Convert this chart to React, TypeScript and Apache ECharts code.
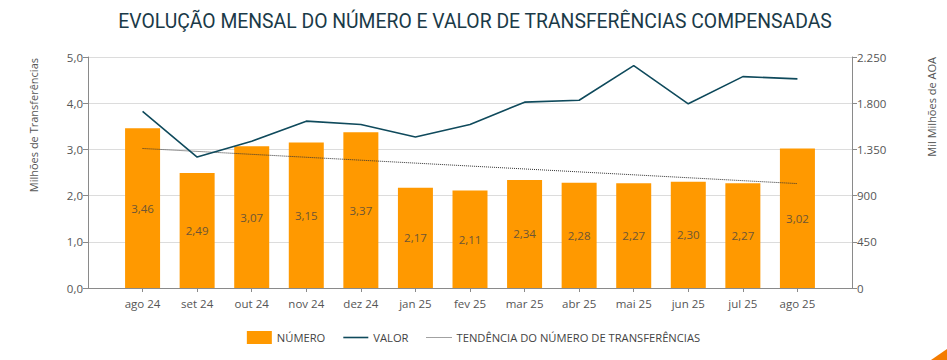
import React, { useEffect, useRef } from "react";
import * as echarts from "echarts";

const categories = ["ago 24", "set 24", "out 24", "nov 24", "dez 24", "jan 25", "fev 25", "mar 25", "abr 25", "mai 25", "jun 25", "jul 25", "ago 25"];
const numero = [3.46, 2.49, 3.07, 3.15, 3.37, 2.17, 2.11, 2.34, 2.28, 2.27, 2.30, 2.27, 3.02];
const valor = [1720, 1275, 1430, 1625, 1593, 1470, 1592, 1810, 1829, 2166, 1794, 2059, 2037];
const trendStart = 3.02;
const trendEnd = 2.26;
const leftTicks = { min: 0, max: 5, interval: 1 };
const rightTicks = { min: 0, max: 2250, interval: 450 };

const FONT = "Open Sans";
const TITLE = "EVOLUÇÃO MENSAL DO NÚMERO E VALOR DE TRANSFERÊNCIAS COMPENSADAS";

function dotsPath(width: number): string {
  let d = "path://";
  for (let x = 0; x < width; x += 2) d += `M${x},0h1v1h-1z`;
  return d;
}

export default function App() {
  const ref = useRef<HTMLDivElement>(null);
  useEffect(() => {
    document.body.style.margin = "0";
    if (!ref.current) return;
    const chart = echarts.init(ref.current, undefined, { renderer: "svg" });
    const xData = ["", ...categories, ""];
    const barData = [null, ...numero, null];
    const lineData = [null, ...valor, null];
    const trendData: (number | null)[] = xData.map(() => null);
    trendData[1] = trendStart;
    trendData[categories.length] = trendEnd;
    const last = xData.length - 1;

    // measure title width to condense it to target width
    let titleScale = 1;
    try {
      const ctx = document.createElement("canvas").getContext("2d");
      if (ctx) {
        ctx.font = "20px Roboto";
        const w = ctx.measureText(TITLE).width;
        if (w > 0) titleScale = Math.max(0.7, Math.min(1.1, 714 / w));
      }
    } catch (e) {}

    chart.setOption({
      animation: false,
      backgroundColor: "#ffffff",
      grid: { left: 88, right: 95, top: 57, bottom: 72, containLabel: false },
      legend: {
        bottom: 11,
        left: "center",
        itemWidth: 25,
        itemHeight: 13,
        itemGap: 18,
        textStyle: { fontFamily: FONT, fontSize: 11.2, color: "#444" },
        data: [
          { name: "NÚMERO", icon: "rect" },
          { name: "VALOR", icon: "path://M0,0h25v1.6h-25z" },
          { name: "TENDÊNCIA DO NÚMERO DE TRANSFERÊNCIAS", icon: dotsPath(25) },
        ],
      },
      xAxis: {
        type: "category",
        data: xData,
        boundaryGap: false,
        axisLine: { lineStyle: { color: "#8a8a8a" } },
        axisTick: { show: true, length: 4, lineStyle: { color: "#8a8a8a" }, interval: (i: number) => i > 0 && i < last },
        axisLabel: { interval: 0, fontFamily: FONT, fontSize: 11.5, color: "#555", margin: 9 },
        splitLine: { show: false },
      },
      yAxis: [
        {
          type: "value",
          ...leftTicks,
          position: "left",
          axisLine: { show: true, lineStyle: { color: "#8a8a8a" } },
          axisTick: { show: true, length: 5, lineStyle: { color: "#8a8a8a" } },
          axisLabel: {
            fontFamily: FONT, fontSize: 11.5, color: "#555", margin: 5,
            formatter: (v: number) => v.toFixed(1).replace(".", ","),
          },
          splitLine: { show: true, lineStyle: { color: "#dcdcdc" } },
        },
        {
          type: "value",
          ...rightTicks,
          position: "right",
          axisLine: { show: true, lineStyle: { color: "#8a8a8a" } },
          axisTick: { show: true, length: 5, lineStyle: { color: "#8a8a8a" } },
          axisLabel: {
            fontFamily: FONT, fontSize: 11.5, color: "#555", margin: 5,
            formatter: (v: number) => v.toString().replace(/\B(?=(\d{3})+(?!\d))/g, "."),
          },
          splitLine: { show: false },
        },
      ],
      series: [
        {
          name: "NÚMERO",
          type: "bar",
          data: barData,
          barWidth: 35,
          itemStyle: { color: "#FF9900" },
          label: {
            show: true,
            position: "inside",
            fontFamily: FONT,
            fontSize: 11.5,
            color: "#6d5535",
            formatter: (p: any) => (p.value == null ? "" : Number(p.value).toFixed(2).replace(".", ",")),
          },
          z: 1,
        },
        {
          name: "VALOR",
          type: "line",
          yAxisIndex: 1,
          data: lineData,
          symbol: "none",
          lineStyle: { color: "#0f4a5c", width: 1.6 },
          itemStyle: { color: "#0f4a5c" },
          z: 3,
        },
        {
          name: "TENDÊNCIA DO NÚMERO DE TRANSFERÊNCIAS",
          type: "line",
          yAxisIndex: 0,
          data: trendData,
          connectNulls: true,
          symbol: "none",
          lineStyle: { color: "#333", width: 1, type: [1, 1] },
          itemStyle: { color: "#444" },
          z: 2,
        },
      ],
      graphic: [
        {
          type: "text",
          x: 475,
          y: 21,
          scaleX: titleScale,
          style: { text: TITLE, fontFamily: "Roboto", fontSize: 20, fontWeight: "normal", fill: "#1a3a48", textAlign: "center", textVerticalAlign: "middle" },
        },
        {
          type: "text",
          x: 33,
          y: 58,
          rotation: Math.PI / 2,
          style: { text: "Milhões de Transferências", fontFamily: FONT, fontSize: 11, fill: "#555", textAlign: "right", textVerticalAlign: "middle" },
        },
        {
          type: "text",
          x: 931,
          y: 57,
          rotation: Math.PI / 2,
          style: { text: "Mil Milhões de AOA", fontFamily: FONT, fontSize: 11, fill: "#555", textAlign: "right", textVerticalAlign: "middle" },
        },
        {
          type: "polygon",
          shape: { points: [[931, 360], [947, 349], [947, 360]] },
          style: { fill: "#F47B00" },
        },
      ],
    });
    return () => chart.dispose();
  }, []);
  return <div ref={ref} style={{ width: 947, height: 360 }} />;
}
